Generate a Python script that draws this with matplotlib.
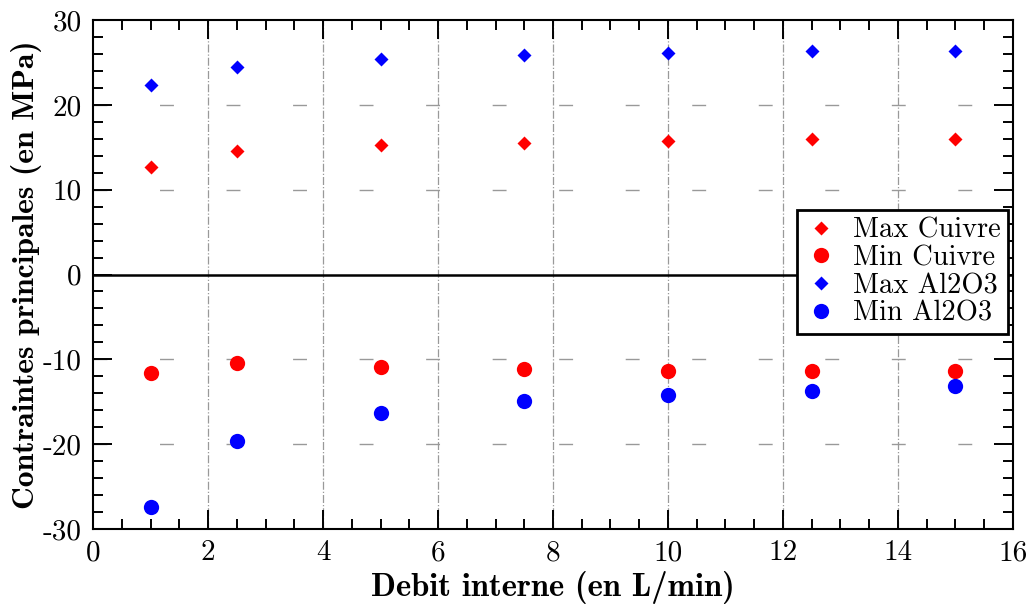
import matplotlib
matplotlib.use("Agg")
import matplotlib.pyplot as plt
from matplotlib.ticker import MultipleLocator

plt.rcParams['font.family'] = 'serif'
plt.rcParams['font.serif'] = ['cmr10']
plt.rcParams['axes.unicode_minus'] = False
plt.rcParams['axes.formatter.use_mathtext'] = False

# data
debit = [1, 2.5, 5, 7.5, 10, 12.5, 15]
max_cuivre = [12.7, 14.6, 15.3, 15.5, 15.7, 16.0, 16.0]
min_cuivre = [-11.6, -10.4, -10.9, -11.1, -11.35, -11.35, -11.35]
max_al2o3 = [22.35, 24.5, 25.4, 25.9, 26.15, 26.4, 26.4]
min_al2o3 = [-27.4, -19.6, -16.3, -14.9, -14.2, -13.7, -13.2]

fig = plt.figure(figsize=(10.35, 6.07), dpi=100)
ax = fig.add_axes([0.0899, 0.1285, 0.8888, 0.8385])

# grid
for xv in range(2, 16, 2):
    ax.axvline(xv, color='#999999', lw=0.9, ls='-.', zorder=0)
for yv in [-20, -10, 10, 20]:
    ax.axhline(yv, color='#999999', lw=1.0, dashes=(10, 37.9), zorder=0)
ax.axhline(0, color='black', lw=1.8, zorder=1)

ax.plot(debit, max_cuivre, 'D', color='red', ms=7, mec='none', label='Max Cuivre')
ax.plot(debit, min_cuivre, 'o', color='red', ms=11, mec='none', label='Min Cuivre')
ax.plot(debit, max_al2o3, 'D', color='blue', ms=7, mec='none', label='Max Al2O3')
ax.plot(debit, min_al2o3, 'o', color='blue', ms=11, mec='none', label='Min Al2O3')

ax.set_xlim(0, 16)
ax.set_ylim(-30, 30)
ax.xaxis.set_major_locator(MultipleLocator(2))
ax.xaxis.set_minor_locator(MultipleLocator(0.5))
ax.yaxis.set_major_locator(MultipleLocator(10))
ax.yaxis.set_minor_locator(MultipleLocator(2))
ax.tick_params(which='both', direction='in', top=True, right=True, width=1.4, labelsize=21, pad=8)
ax.tick_params(which='major', length=14)
ax.tick_params(which='minor', length=7.5)
for s in ax.spines.values():
    s.set_linewidth(1.5)

ax.set_xlabel('Debit interne (en L/min)', fontfamily='cmb10', fontsize=23.5, labelpad=3)
ax.set_ylabel('Contraintes principales (en MPa)', fontfamily='cmb10', fontsize=22.8, labelpad=1)

leg = ax.legend(loc='center right', bbox_to_anchor=(0.995, 0.505), fontsize=20.5, fancybox=False,
                edgecolor='black', framealpha=1, handletextpad=0.5, borderpad=0.25,
                labelspacing=0.05, handlelength=1.25, borderaxespad=0)
leg.get_frame().set_linewidth(2)

fig.savefig('out.png', dpi=100)
